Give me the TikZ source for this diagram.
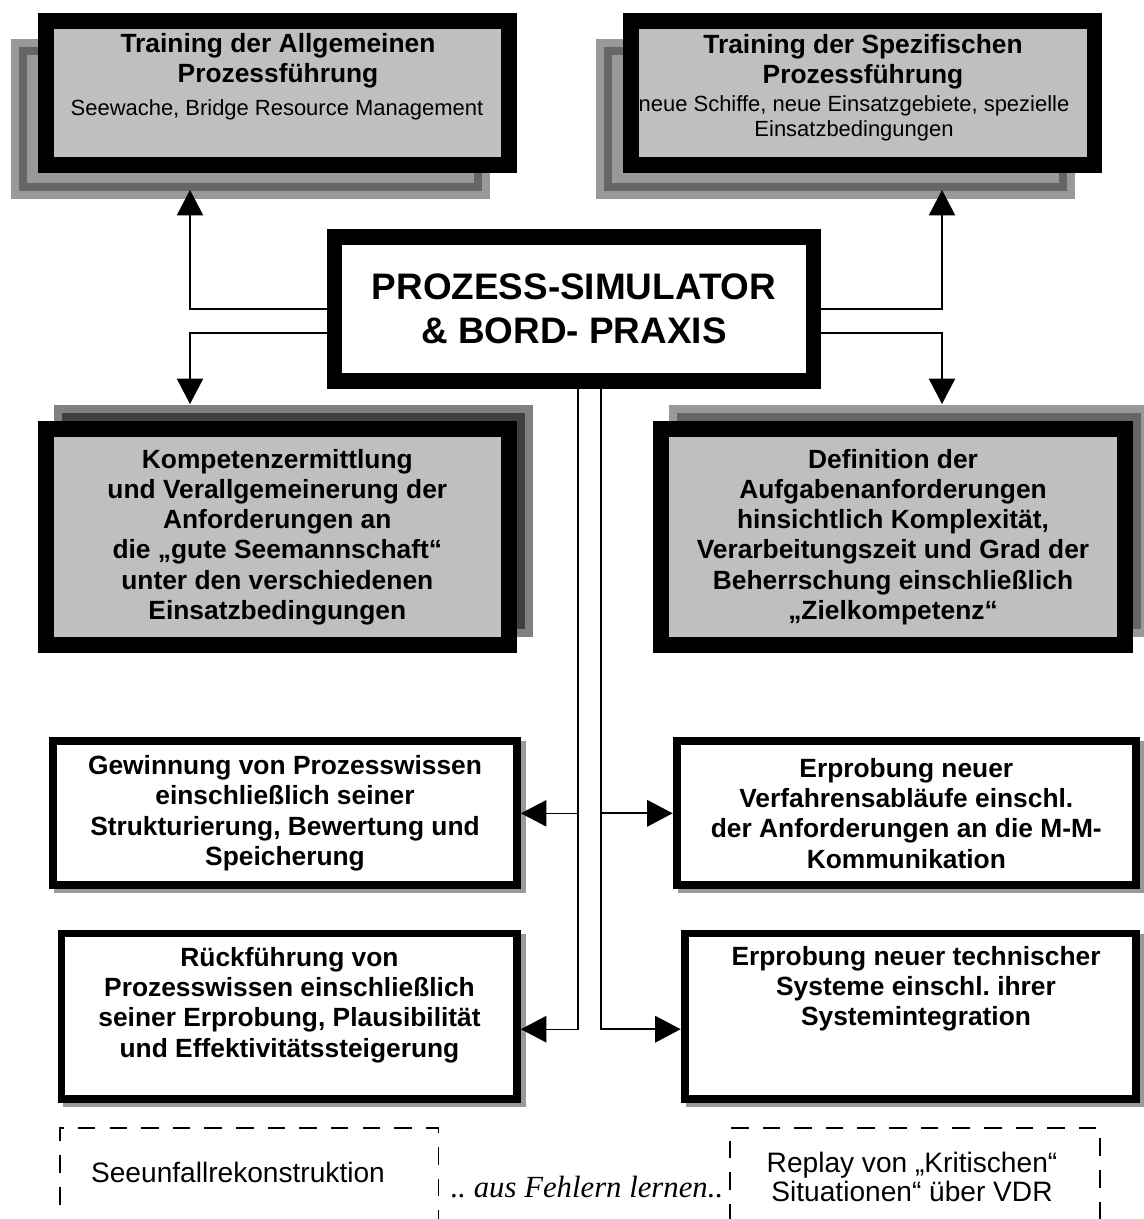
\documentclass[tikz,border=0pt]{standalone}
\usepackage{fontspec}
\setmainfont{Liberation Sans}
\newfontfamily\serifit{Liberation Serif}
\usetikzlibrary{arrows.meta}
\pgfdeclarelayer{background}
\pgfsetlayers{background,main}
\newcommand\boxfont{\bfseries\fontsize{15}{17.2}\selectfont}
\newcommand\subfont{\fontsize{12.5}{14.2}\selectfont}
\tikzset{
  graybox/.style={draw=black, line width=9pt, fill=black!25, inner sep=0pt, minimum width=9.27cm, align=center, font=\boxfont},
  whitebox/.style={draw=black, line width=4.5pt, fill=white, inner sep=0pt, align=center, font=\boxfont},
  dashbox/.style={draw=black, line width=1.1pt, dash pattern=on 10pt off 8pt, inner sep=0pt, minimum height=2.64cm},
  boxtext/.style={inner sep=0pt, align=center, font=\boxfont},
  subtext/.style={inner sep=0pt, align=center, font=\subfont},
  arr/.style={-{Triangle[length=14.5pt,width=15pt]}, line width=0.8pt}
}

\begin{document}
\frenchspacing
\begin{tikzpicture}[x=0.02cm, y=-0.02cm]
		%%%%% START %%%%%
		\useasboundingbox (0,0) rectangle (1143,1219);
		
		% training boxes
		\node[graybox, minimum height=2.87cm] (tl) at (277.3,93) {};
		\node[boxtext] (tltitle) at (278,61) {Training der Allgemeinen\\Prozessführung};
		\node[subtext] (tlsub) at (277,110) {Seewache, Bridge Resource Management};
		
		\node[graybox, minimum height=2.87cm] (tr) at (862.8,93) {};
		\node[boxtext] (trtitle) at (863,62) {Training der Spezifischen\\Prozessführung};
		\node[subtext] (trsub) at (854,118.5) {neue Schiffe, neue Einsatzgebiete, spezielle\\Einsatzbedingungen};
		
		% simulator
		\node[draw=black, line width=9pt, fill=white, inner sep=0pt, minimum width=9.58cm, minimum height=2.87cm,
		      align=center, font=\bfseries\fontsize{21}{24.8}\selectfont] (ctr) at (574,309)
		      {PROZESS-SIMULATOR\\\& BORD- PRAXIS};
		
		\node[graybox, minimum height=4.32cm] (ml) at (277.3,537) {Kompetenzermittlung\\und Verallgemeinerung der\\Anforderungen an\\die „gute Seemannschaft“\\unter den verschiedenen\\Einsatzbedingungen};
		\node[graybox, minimum height=4.32cm] (mr) at (893,537) {Definition der\\Aufgabenanforderungen\\hinsichtlich Komplexität,\\Verarbeitungszeit und Grad der\\Beherrschung einschließlich\\„Zielkompetenz“};
		
		\node[whitebox, minimum width=9.28cm, minimum height=2.88cm] (gw) at (285,813.3) {Gewinnung von Prozesswissen\\einschließlich seiner\\Strukturierung, Bewertung und\\Speicherung};
		\node[whitebox, minimum width=9.19cm, minimum height=2.88cm] (ev) at (906.3,813.3) {Erprobung neuer\\Verfahrensabläufe einschl.\\der Anforderungen an die M-M-\\Kommunikation};
		
		\node[whitebox, minimum width=9.11cm, minimum height=3.31cm] (rf) at (289.2,1016.2) {};
		\node[boxtext] (rftxt) at (289.5,1005) {Rückführung von\\Prozesswissen einschließlich\\seiner Erprobung, Plausibilität\\und Effektivitätssteigerung};
		\node[whitebox, minimum width=9.03cm, minimum height=3.31cm] (et) at (910.3,1016.2) {};
		\node[boxtext] (ettxt) at (916,989) {Erprobung neuer technischer\\Systeme einschl. ihrer\\Systemintegration};
		
		% dashed boxes at the bottom
		\node[dashbox, minimum width=7.58cm] (seebox) at (249,1194) {};
		\node[dashbox, minimum width=7.41cm] (vdrbox) at (914.8,1194) {};
		\node[subtext, font=\fontsize{16}{16}\selectfont] (seetxt) at (238,1172) {Seeunfallrekonstruktion};
		\node[subtext, font=\fontsize{16}{16.5}\selectfont] (vdrtxt) at (912,1177) {Replay von „Kritischen“\\Situationen“ über VDR};
		\node[inner sep=0pt, font=\serifit\itshape\fontsize{17.5}{17.5}\selectfont] (fehlertxt) at (587,1187) {.. aus Fehlern lernen..};
		
		% connectors
		\coordinate (tlin) at (190,190);
		\coordinate (trin) at (942,190);
		\coordinate (mlin) at (190,404);
		\coordinate (mrin) at (942,404);
		\draw[arr] (ctr.west) -| (tlin);
		\draw[arr] (ctr.west) ++(0,24) -| (mlin);
		\draw[arr] (ctr.east) -| (trin);
		\draw[arr] (ctr.east) ++(0,24) -| (mrin);
		
		\draw[arr] (ctr.south) ++(4,0) |- (gw.east);
		\draw[arr] (ctr.south) ++(4,0) |- ([yshift=-0.26cm]rf.east);
		\draw[arr, line width=1.2pt] (ctr.south) ++(27,0) |- (ev.west);
		\draw[arr, line width=1.2pt] (ctr.south) ++(27,0) |- ([yshift=-0.26cm]et.west);
		
		% shadows
		\begin{pgfonlayer}{background}
			\foreach \b in {tl,tr} {
				\fill[black!40] ([shift={(-27,26)}]\b.north west) rectangle ([shift={(-27,26)}]\b.south east);
				\draw[black!60, line width=4.5pt] ([shift={(-15,38)}]\b.north west) rectangle ([shift={(-39,14)}]\b.south east);
			}
			\fill[black!50] ([shift={(16,-16)}]ml.north west) rectangle ([shift={(16,-16)}]ml.south east);
			\fill[black!75] ([shift={(24,-8)}]ml.north west) rectangle ([shift={(8,-24)}]ml.south east);
			\fill[black!40] ([shift={(16,-16)}]mr.north west) rectangle ([shift={(16,-16)}]mr.south east);
			\fill[black!60] ([shift={(24,-8)}]mr.north west) rectangle ([shift={(8,-24)}]mr.south east);
			\foreach \b in {gw,ev,rf,et}
				\fill[black!40] ([shift={(5,4)}]\b.north west) rectangle ([shift={(5,4)}]\b.south east);
		\end{pgfonlayer}
		
		%%%%% END %%%%%
\end{tikzpicture}
\end{document}
